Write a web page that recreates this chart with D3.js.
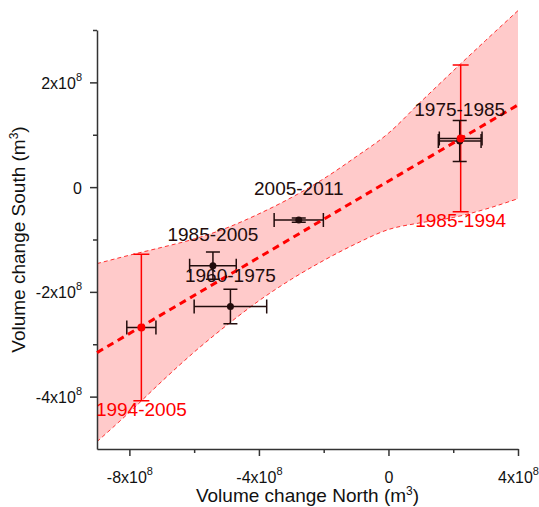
<!DOCTYPE html>
<html>
<head>
<meta charset="utf-8">
<script src="https://cdn.jsdelivr.net/npm/d3@7"></script>
<style>
    body { margin: 0; background: #fff; }
    svg { display: block; font-family: "Liberation Sans", Arial, sans-serif; }
</style>
</head>
<body>
<svg id="chart" width="539" height="507"></svg>
<script>
// points measured in the period (black)
const blackPeriods = ["1960-1975", "1975-1985", "1985-2005", "2005-2011"];
const blackX = [-4.88e8, 2.20e8, -5.42e8, -2.77e8];
const blackY = [-2.28e8, 0.88e8, -1.50e8, -0.63e8];
const blackXErr = [1.12e8, 0.66e8, 0.72e8, 0.76e8];
const blackYErr = [0.33e8, 0.39e8, 0.26e8, 0.04e8];

// red points
const redPeriods = ["1985-1994", "1994-2005"];
const redX = [2.23e8, -7.63e8];
const redY = [0.93e8, -2.68e8];
const redXErr = [0.66e8, 0.45e8];
const redYErr = [1.40e8, 1.40e8];

// regression line and its band
const regX = [-9e8, 4e8];
const regY = [-3.16e8, 1.57e8];
const bandX = [-9e8, -8e8, -7e8, -6e8, -5e8, -4e8, -3e8, -2e8, -1e8, 0, 1e8, 2e8, 3e8, 4e8];
const bandUpper = [-1.46e8, -1.30e8, -1.15e8, -0.99e8, -0.78e8, -0.51e8, -0.20e8, 0.16e8, 0.58e8, 1.03e8, 1.63e8, 2.22e8, 2.80e8, 3.37e8];
const bandLower = [-4.86e8, -4.30e8, -3.71e8, -3.15e8, -2.64e8, -2.17e8, -1.76e8, -1.40e8, -1.08e8, -0.81e8, -0.68e8, -0.58e8, -0.42e8, -0.22e8];

// axes
const xTicks = [-8e8, -4e8, 0, 4e8];
const xTickLabels = ["-8x10^8", "-4x10^8", "0", "4x10^8"];
const xMinor = [-6e8, -2e8, 2e8];
const yTicks = [-4e8, -2e8, 0, 2e8];
const yTickLabels = ["-4x10^8", "-2x10^8", "0", "2x10^8"];
const yMinor = [-3e8, -1e8, 1e8, 3e8];

const dark = "#220c0c";
const red = "#ff0000";

const svg = d3.select("#chart");
const area = { left: 97, right: 518, top: 30, bottom: 449 };

const scX = d3.scaleLinear().domain([-9e8, 4e8]).range([area.left, area.right]);
const scY = d3.scaleLinear().domain([-5e8, 3e8]).range([area.bottom, area.top]);

// tick label with superscript
function supLabel(sel, labels) {
    sel.each(function (d, i) {
        const parts = labels[i].split("^");
        const t = d3.select(this).text(null);
        t.append("tspan").text(parts[0]);
        if (parts[1]) t.append("tspan").attr("font-size", 11).attr("dy", -8).text(parts[1]);
    });
}

// band
const band = d3.area()
    .x((d, i) => scX(bandX[i]))
    .y0((d, i) => scY(bandLower[i]))
    .y1((d, i) => scY(bandUpper[i]))
    .curve(d3.curveMonotoneX);
svg.append("path")
    .attr("d", band(bandX))
    .attr("fill", "#ffcaca");

["upper", "lower"].forEach(k => {
    const vals = k == "upper" ? bandUpper : bandLower;
    const line = d3.line()
        .x((d, i) => scX(bandX[i]))
        .y((d, i) => scY(vals[i]))
        .curve(d3.curveMonotoneX);
    svg.append("path")
        .attr("d", line(bandX))
        .attr("fill", "none")
        .attr("stroke", red)
        .attr("stroke-width", 0.8)
        .attr("stroke-dasharray", "4,3");
});

// axes
const gx = svg.append("g").attr("transform", `translate(0,${area.bottom})`);
gx.call(d3.axisBottom(scX).tickValues(xTicks).tickSize(7).tickSizeOuter(0));
gx.append("g").call(d3.axisBottom(scX).tickValues(xMinor).tickSize(4).tickFormat(""))
    .select(".domain").remove();
gx.selectAll(".tick text")
    .filter(function () { return this.parentNode.parentNode === gx.node(); })
    .attr("y", 34).attr("dy", 0)
    .call(supLabel, xTickLabels);

const gy = svg.append("g").attr("transform", `translate(${area.left},0)`);
gy.call(d3.axisLeft(scY).tickValues(yTicks).tickSize(7).tickSizeOuter(0));
gy.append("g").call(d3.axisLeft(scY).tickValues(yMinor).tickSize(4).tickFormat(""))
    .select(".domain").remove();
gy.selectAll(".tick text")
    .filter(function () { return this.parentNode.parentNode === gy.node(); })
    .attr("x", -15).attr("dy", 0).attr("y", 6)
    .call(supLabel, yTickLabels);

svg.selectAll(".domain, .tick line").attr("stroke", "#333").attr("stroke-width", 1.5);
svg.selectAll(".tick text").attr("font-size", 16).attr("fill", "#111");

// axis titles
const xt = svg.append("text")
    .attr("x", (area.left + area.right) / 2).attr("y", 502)
    .attr("text-anchor", "middle").attr("font-size", 19).attr("fill", "#111");
xt.append("tspan").text("Volume change North (m");
xt.append("tspan").attr("font-size", 12).attr("dy", -7).text("3");
xt.append("tspan").attr("dy", 7).text(")");

const yt = svg.append("text")
    .attr("transform", `translate(25,${(area.top + area.bottom) / 2}) rotate(-90)`)
    .attr("text-anchor", "middle").attr("font-size", 19).attr("fill", "#111");
yt.append("tspan").text("Volume change South (m");
yt.append("tspan").attr("font-size", 12).attr("dy", -7).text("3");
yt.append("tspan").attr("dy", 7).text(")");

// error bars
function errBars(xs, ys, xe, ye, colX, colY, capY) {
    const g = svg.append("g").attr("fill", "none").attr("stroke-width", 1.5);
    xs.forEach((x, i) => {
        const cx = scX(x), cy = scY(ys[i]);
        const x0 = scX(x - xe[i]), x1 = scX(x + xe[i]);
        const y0 = scY(ys[i] - ye[i]), y1 = scY(ys[i] + ye[i]);
        // vertical
        g.append("path")
            .attr("d", `M${cx},${y0}V${y1}M${cx - capY / 2},${y0}H${cx + capY / 2}M${cx - capY / 2},${y1}H${cx + capY / 2}`)
            .attr("stroke", colY);
        // horizontal
        g.append("path")
            .attr("d", `M${x0},${cy}H${x1}M${x0},${cy - 7}V${cy + 7}M${x1},${cy - 7}V${cy + 7}`)
            .attr("stroke", colX);
    });
}
errBars(redX, redY, redXErr, redYErr, dark, red, 16);
errBars(blackX, blackY, blackXErr, blackYErr, dark, dark, 14);

// regression line
svg.append("path")
    .attr("d", d3.line().x((d, i) => scX(regX[i])).y((d, i) => scY(regY[i]))(regX))
    .attr("fill", "none")
    .attr("stroke", red)
    .attr("stroke-width", 3)
    .attr("stroke-dasharray", "7,5");

// points
svg.selectAll(".blk")
    .data(blackX)
    .enter()
    .append("circle")
    .attr("cx", d => scX(d))
    .attr("cy", (d, i) => scY(blackY[i]))
    .attr("r", 3.5)
    .style("fill", dark);
svg.selectAll(".rd")
    .data(redX)
    .enter()
    .append("circle")
    .attr("cx", d => scX(d))
    .attr("cy", (d, i) => scY(redY[i]))
    .attr("r", 4)
    .style("fill", red);

// labels
svg.selectAll(".lblk")
    .data(blackPeriods)
    .enter()
    .append("text")
    .attr("x", (d, i) => scX(blackX[i]))
    .attr("y", (d, i) => scY(blackY[i]) - 25)
    .attr("text-anchor", "middle")
    .attr("font-size", 19)
    .attr("fill", dark)
    .text(d => d);
svg.selectAll(".lrd")
    .data(redPeriods)
    .enter()
    .append("text")
    .attr("x", (d, i) => scX(redX[i]))
    .attr("y", (d, i) => scY(redY[i] - redYErr[i]) + 15)
    .attr("text-anchor", "middle")
    .attr("font-size", 19)
    .attr("fill", red)
    .text(d => d);
</script>
</body>
</html>
